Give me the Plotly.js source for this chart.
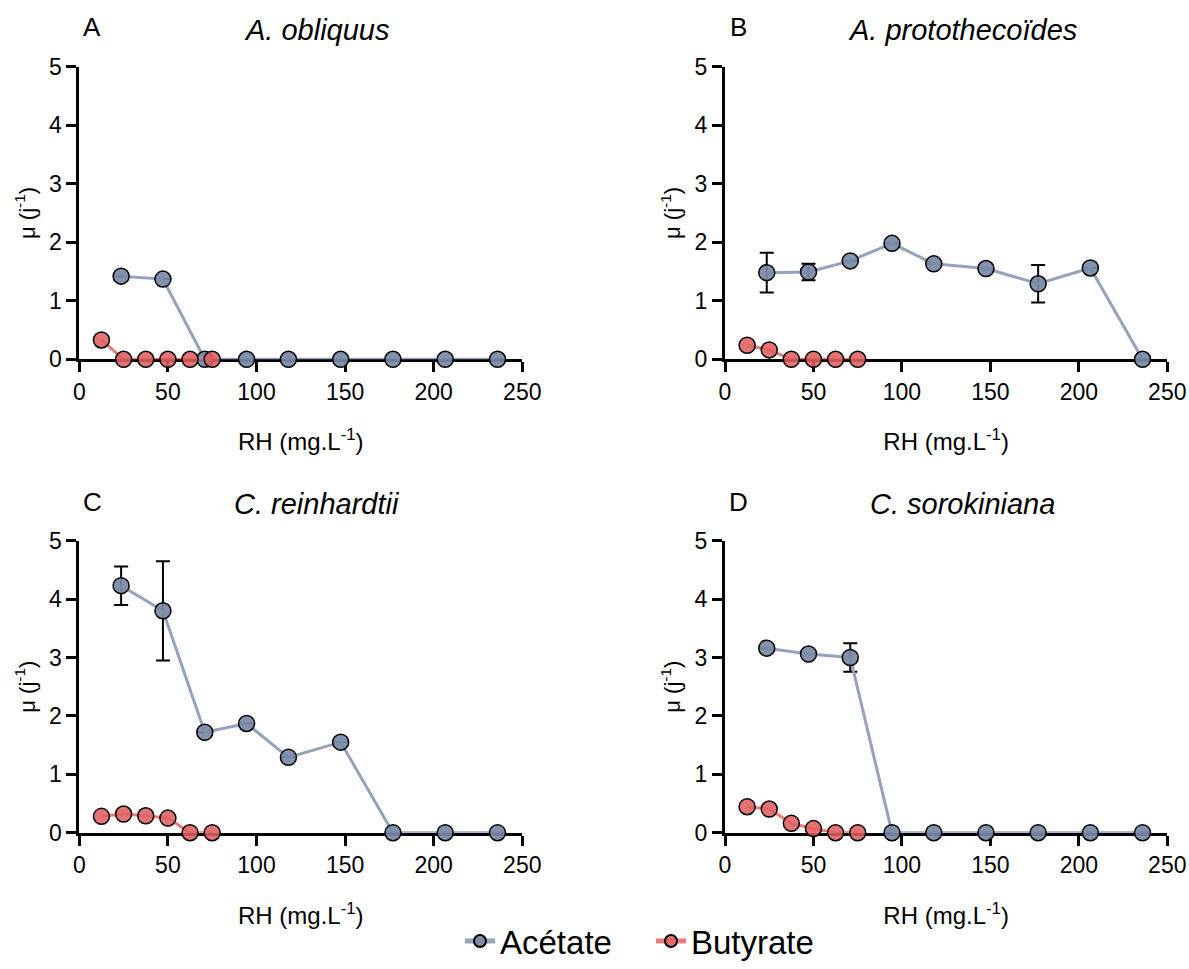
<!DOCTYPE html>
<html>
<head>
<meta charset="utf-8">
<script src="https://cdn.plot.ly/plotly-3.0.1.min.js"></script>
<style>html,body{margin:0;padding:0;background:#fff;}#chart{width:1189px;height:969px;}</style>
</head>
<body>
<div id="chart"></div>
<script>
// RH concentrations (mg.L-1)
const xAcetate = [23.6, 47.2, 70.8, 94.4, 118, 147.5, 177, 206.5, 236];
const xButyrate = [12.5, 25, 37.5, 50, 62.5, 75];

// Growth rates µ (j-1)
const acetateA = [1.42, 1.37, 0, 0, 0, 0, 0, 0, 0];
const acetateErrA = [null, null, null, null, null, null, null, null, null];
const butyrateA = [0.33, 0, 0, 0, 0, 0];

const acetateB = [1.48, 1.49, 1.68, 1.98, 1.63, 1.55, 1.29, 1.56, 0];
const acetateErrB = [0.34, 0.14, null, null, null, null, 0.32, null, null];
const butyrateB = [0.24, 0.16, 0, 0, 0, 0];

const acetateC = [4.23, 3.80, 1.72, 1.87, 1.29, 1.55, 0, 0, 0];
const acetateErrC = [0.33, 0.85, null, null, null, null, null, null, null];
const butyrateC = [0.28, 0.32, 0.29, 0.25, 0, 0];

const acetateD = [3.16, 3.06, 3.00, 0, 0, 0, 0, 0, 0];
const acetateErrD = [null, null, 0.245, null, null, null, null, null, null];
const butyrateD = [0.445, 0.405, 0.16, 0.07, 0, 0];

const panelLetters = ['A', 'B', 'C', 'D'];
const panelTitles = ['A. obliquus', 'A. protothecoïdes', 'C. reinhardtii', 'C. sorokiniana'];
const seriesNames = ['Acétate', 'Butyrate'];
const xTicks = [0, 50, 100, 150, 200, 250];
const yTicks = [0, 1, 2, 3, 4, 5];

const FONT = 'Liberation Sans, Arial, sans-serif';
const acetateFill = 'rgba(122,137,166,0.92)';
const acetateLine = 'rgb(148,162,189)';
const butyrateFill = 'rgba(224,96,96,0.88)';
const butyrateLine = 'rgb(232,124,124)';

const acetateSets = [acetateA, acetateB, acetateC, acetateD];
const acetateErrs = [acetateErrA, acetateErrB, acetateErrC, acetateErrD];
const butyrateSets = [butyrateA, butyrateB, butyrateC, butyrateD];

const W = 1189, H = 969;
// pixel geometry of each panel [x0, x1, yTop, yBottom]
const geo = [
  [79.3, 522.3, 66.5, 359.3],
  [725, 1167.3, 66.5, 359.3],
  [79.3, 522.3, 540.7, 832.7],
  [725, 1167.3, 540.7, 832.7]
];

const traces = [];
const layout = {
  width: W, height: H,
  margin: {l: 0, r: 0, t: 0, b: 0, autoexpand: false},
  paper_bgcolor: '#fff', plot_bgcolor: '#fff',
  font: {family: FONT, color: '#000'},
  showlegend: true,
  legend: {
    orientation: 'h', x: 460 / W, xanchor: 'left', y: 0, yanchor: 'bottom',
    font: {family: FONT, size: 33, color: '#000'}, traceorder: 'normal',
    itemsizing: 'constant', itemwidth: 30, entrywidth: 146, entrywidthmode: 'pixels',
    bgcolor: 'rgba(0,0,0,0)'
  },
  annotations: []
};

for (let i = 0; i < 4; i++) {
  const sfx = i === 0 ? '' : String(i + 1);
  const xa = 'x' + sfx, ya = 'y' + sfx;
  const g = geo[i];
  layout['xaxis' + sfx] = {
    domain: [g[0] / W, g[1] / W],
    anchor: ya,
    range: [0, 250],
    tickvals: xTicks,
    ticks: 'outside', ticklen: 10, tickwidth: 3, tickcolor: '#000',
    showline: true, linewidth: 3, linecolor: '#000',
    showgrid: false, zeroline: false,
    tickfont: {family: FONT, size: 23, color: '#000'},
    title: {text: 'RH (mg.L<sup>-1</sup>)', font: {family: FONT, size: 24, color: '#000'}, standoff: 30},
    layer: 'below traces',
    fixedrange: true
  };
  layout['yaxis' + sfx] = {
    domain: [1 - g[3] / H, 1 - g[2] / H],
    anchor: xa,
    range: [0, 5],
    tickvals: yTicks,
    ticks: 'outside', ticklen: 10, tickwidth: 3, tickcolor: '#000',
    showline: true, linewidth: 3, linecolor: '#000',
    showgrid: false, zeroline: false,
    tickfont: {family: FONT, size: 23, color: '#000'},
    title: {text: 'μ (j<sup>-1</sup>)', font: {family: FONT, size: 22, color: '#000'}, standoff: 8},
    layer: 'below traces',
    fixedrange: true
  };
  layout.annotations.push({
    text: panelLetters[i], xref: 'paper', yref: 'paper',
    x: (g[0] + 13) / W, y: 1 - (g[2] - 39) / H, xanchor: 'center', yanchor: 'middle',
    showarrow: false, font: {family: FONT, size: 26, color: '#000'}
  });
  layout.annotations.push({
    text: '<i>' + panelTitles[i] + '</i>', xref: 'paper', yref: 'paper',
    x: ((g[0] + g[1]) / 2 + 16) / W, y: 1 - (g[2] - 37) / H, xanchor: 'center', yanchor: 'middle',
    showarrow: false, font: {family: FONT, size: 29, color: '#000'}
  });

  traces.push({
    type: 'scatter', mode: 'lines+markers', name: seriesNames[0], legendgroup: 'ac',
    showlegend: i === 0, xaxis: xa, yaxis: ya, cliponaxis: false,
    x: xAcetate, y: acetateSets[i],
    line: {color: acetateLine, width: 3},
    marker: {size: 16, color: acetateFill, line: {color: '#000', width: 1.5}},
    error_y: {type: 'data', array: acetateErrs[i], visible: true, color: '#000', thickness: 2, width: 7}
  });
  traces.push({
    type: 'scatter', mode: 'lines+markers', name: seriesNames[1], legendgroup: 'bu',
    showlegend: i === 0, xaxis: xa, yaxis: ya, cliponaxis: false,
    x: xButyrate, y: butyrateSets[i],
    line: {color: butyrateLine, width: 3},
    marker: {size: 16, color: butyrateFill, line: {color: '#000', width: 1.5}}
  });
}

Plotly.newPlot('chart', traces, layout, {displayModeBar: false, staticPlot: true});
</script>
</body>
</html>
